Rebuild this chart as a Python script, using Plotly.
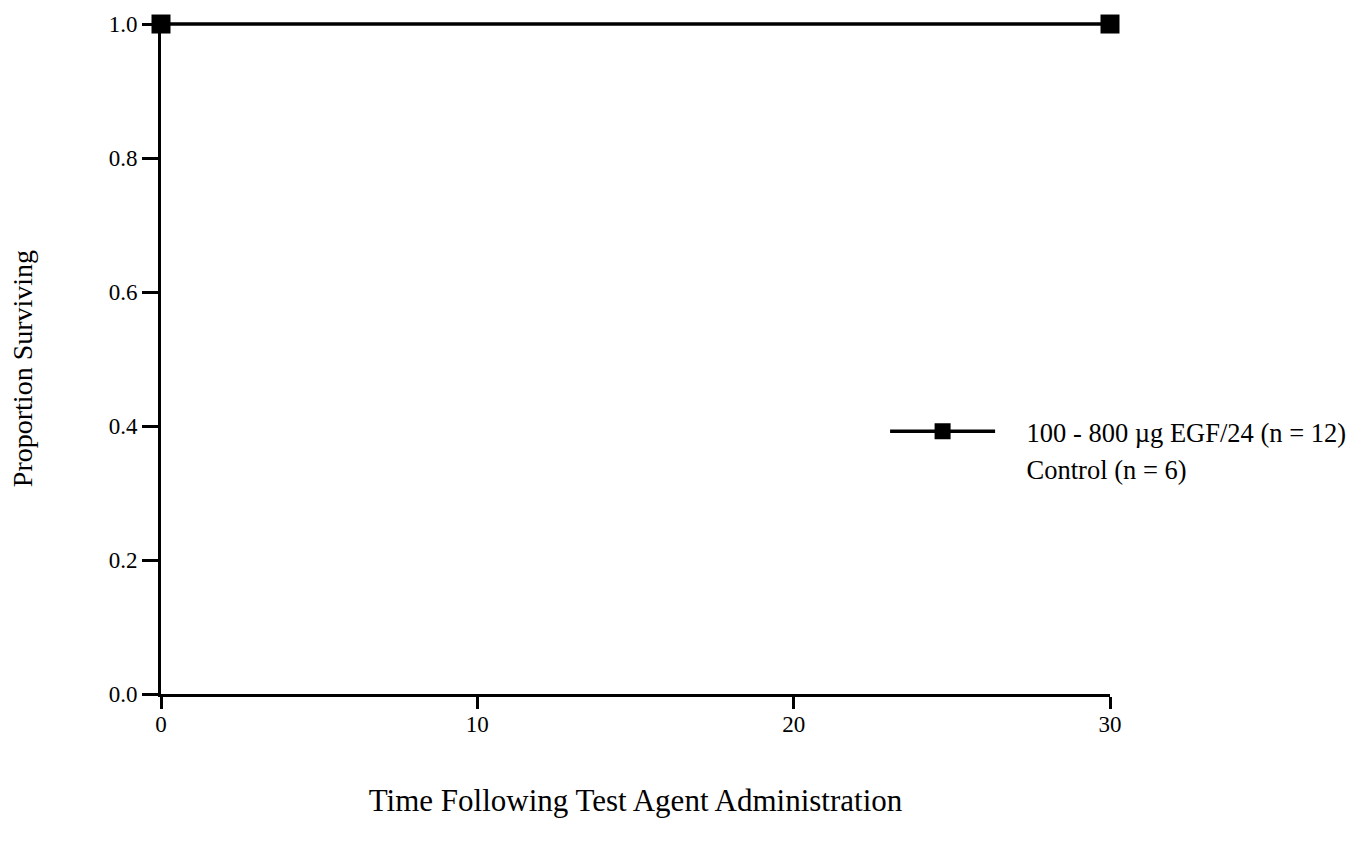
import plotly.graph_objects as go

# Survival data: time (days) and proportion surviving
egf_time = [0, 30]
egf_surv = [1.0, 1.0]
ctrl_time = [0, 30]
ctrl_surv = [1.0, 1.0]

x_ticks = [0, 10, 20, 30]
y_ticks = [0.0, 0.2, 0.4, 0.6, 0.8, 1.0]

FONT = "Liberation Serif"
PAD = "\u00a0" * 4  # gap between legend sample and its label

fig = go.Figure()
fig.add_trace(go.Scatter(
    x=egf_time, y=egf_surv, mode="lines+markers",
    name=PAD + "100 - 800 µg EGF/24 (n = 12)",
    line=dict(color="black", width=3.5),
    marker=dict(symbol="square", size=19, color="black"),
    cliponaxis=False,
))
fig.add_trace(go.Scatter(
    x=ctrl_time, y=ctrl_surv, mode="lines",
    name=PAD + "Control (n = 6)",
    line=dict(color="rgba(0,0,0,0)", width=0),
    cliponaxis=False,
))

fig.update_layout(
    width=1365, height=843,
    margin=dict(l=161, r=255, t=18, b=149),
    paper_bgcolor="white", plot_bgcolor="white",
    font=dict(family=FONT, color="black", size=23),
    legend=dict(
        x=0.763, y=0.362, xanchor="left", yanchor="middle",
        font=dict(family=FONT, size=26.5, color="black"),
        itemwidth=105, tracegroupgap=0, bgcolor="rgba(0,0,0,0)",
    ),
    xaxis=dict(
        range=[0, 30], tickvals=x_ticks, ticktext=[str(v) for v in x_ticks],
        showline=True, linecolor="black", linewidth=3,
        ticks="outside", ticklen=12, tickwidth=3, tickcolor="black",
        showgrid=False, zeroline=False,
        tickfont=dict(family=FONT, size=23), ticklabelstandoff=-5,
        title=dict(text="Time Following Test Agent Administration",
                   font=dict(family=FONT, size=31), standoff=54),
    ),
    yaxis=dict(
        range=[0, 1.006], tickvals=y_ticks, ticktext=[f"{v:.1f}" for v in y_ticks],
        showline=True, linecolor="black", linewidth=3,
        ticks="outside", ticklen=16, tickwidth=3, tickcolor="black",
        showgrid=False, zeroline=False,
        tickfont=dict(family=FONT, size=23),
    ),
)

# Y-axis title, set slightly below the plot's vertical centre
fig.add_annotation(
    text="Proportion Surviving", textangle=-90,
    xref="paper", yref="paper", x=0, y=0.482,
    xanchor="center", yanchor="middle", xshift=-139,
    showarrow=False, font=dict(family=FONT, size=28, color="black"),
)

fig.write_html("out.html")
